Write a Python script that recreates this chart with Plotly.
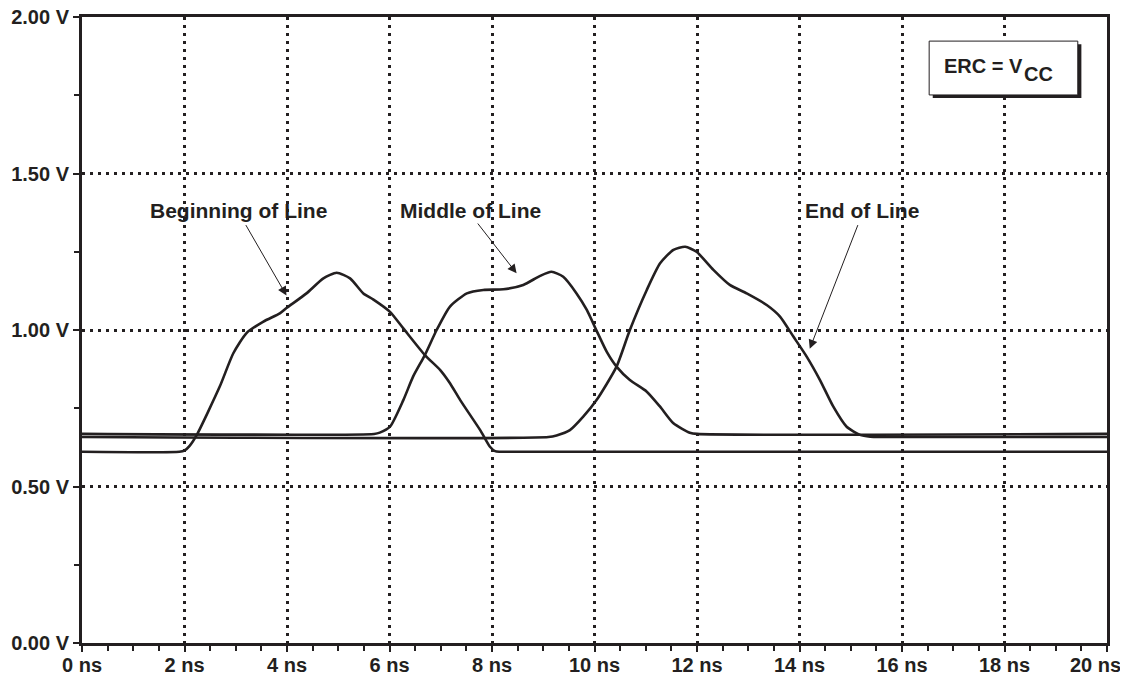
import plotly.graph_objects as go

# Beginning of Line (ns, V)
begin_t = [0, 1.9, 2.0, 2.1, 2.24, 2.69, 2.95, 3.21, 3.54, 3.86, 3.99, 4.38, 4.71, 4.97,
           5.23, 5.49, 5.68, 6.01, 6.27, 6.69, 6.99, 7.18, 7.38, 7.77, 7.96, 8.06, 8.15, 20]
begin_v = [0.611, 0.611, 0.615, 0.63, 0.665, 0.82, 0.925, 0.99, 1.027, 1.053, 1.07, 1.117,
           1.165, 1.183, 1.165, 1.117, 1.098, 1.058, 1.005, 0.92, 0.872, 0.83, 0.776, 0.68,
           0.627, 0.613, 0.611, 0.611]

# Middle of Line
mid_t = [0, 5.7, 5.81, 6.01, 6.27, 6.46, 6.69, 6.92, 7.18, 7.51, 7.83, 8.22, 8.61, 8.94,
         9.16, 9.39, 9.65, 9.85, 10.04, 10.24, 10.43, 10.69, 11.02, 11.28, 11.54, 11.86,
         12.0, 20]
mid_v = [0.668, 0.668, 0.672, 0.691, 0.776, 0.851, 0.92, 1.0, 1.075, 1.117, 1.128, 1.13,
         1.144, 1.173, 1.186, 1.17, 1.117, 1.064, 0.998, 0.93, 0.883, 0.84, 0.803, 0.755,
         0.702, 0.672, 0.668, 0.668]

# End of Line
end_t = [0, 9.1, 9.26, 9.52, 9.78, 10.04, 10.43, 10.69, 11.02, 11.28, 11.54, 11.77, 11.99,
         12.32, 12.64, 12.97, 13.36, 13.62, 13.88, 14.14, 14.4, 14.66, 14.92, 15.18, 15.38,
         15.6, 20]
end_v = [0.658, 0.658, 0.663, 0.68, 0.723, 0.776, 0.883, 1.0, 1.128, 1.213, 1.256, 1.266,
         1.25, 1.192, 1.144, 1.117, 1.08, 1.043, 0.979, 0.915, 0.84, 0.755, 0.691, 0.665,
         0.659, 0.658, 0.658]

x_ticks = list(range(0, 21, 2))
x_labels = [f"{t} ns" for t in x_ticks]
last_x_label = x_labels[-1]
x_labels[-1] = ""  # drawn separately so it stays inside the page
y_ticks = [0, 0.5, 1.0, 1.5, 2.0]
y_labels = [f"{v:.2f} V" for v in y_ticks]

font_family = "Liberation Sans, Arial, Helvetica, sans-serif"
black = "#231f20"
tick_font = dict(family=font_family, size=20, color=black, weight="bold")

fig = go.Figure()
for t, v in [(begin_t, begin_v), (mid_t, mid_v), (end_t, end_v)]:
    fig.add_trace(go.Scatter(x=t, y=v, mode="lines",
                             line=dict(color=black, width=2.6, shape="spline", smoothing=0.6),
                             showlegend=False, hoverinfo="skip"))

labels = [
    # text, text x, text y, arrow tail x, tail y, tip x, tip y
    ("Beginning of Line", 3.06, 1.383, 3.18, 1.34, 3.99, 1.11),
    ("Middle of Line", 7.59, 1.383, 7.70, 1.345, 8.48, 1.181),
    ("End of Line", 15.21, 1.383, 15.15, 1.34, 14.2, 0.94),
]
for text, tx, ty, ax, ay, hx, hy in labels:
    fig.add_annotation(x=tx, y=ty, text=text, showarrow=False,
                       font=dict(family=font_family, size=21, color=black, weight="bold"))
    fig.add_annotation(x=hx, y=hy, ax=ax, ay=ay, axref="x", ayref="y", text="",
                       showarrow=True, arrowhead=2, arrowsize=1.8, arrowwidth=1, arrowcolor=black)

# last x tick label, nudged left like in the original
fig.add_annotation(x=x_ticks[-1], y=0, yref="paper", text=last_x_label, showarrow=False,
                   xanchor="right", yanchor="top", xshift=16, yshift=-9, font=tick_font)

# ERC = VCC box with drop shadow
fig.add_shape(type="rect", x0=16.6, x1=19.5, y0=1.741, y1=1.913, xref="x", yref="y",
              fillcolor=black, line=dict(width=0), layer="above")
fig.add_shape(type="rect", x0=16.53, x1=19.43, y0=1.751, y1=1.923, xref="x", yref="y",
              fillcolor="white", line=dict(color=black, width=1), layer="above")
fig.add_annotation(x=18.4, y=1.843, text="ERC = V", showarrow=False, xanchor="right",
                   font=dict(family=font_family, size=20, color=black, weight="bold"))
fig.add_annotation(x=18.34, y=1.818, text="CC", showarrow=False, xanchor="left",
                   font=dict(family=font_family, size=20, color=black, weight="bold"))

axis_common = dict(
    showline=True, linecolor=black, linewidth=3, mirror=True,
    ticks="outside", ticklen=6, tickwidth=2, tickcolor=black,
    showgrid=True, gridcolor=black, gridwidth=2.5, griddash="3px,5px",
    zeroline=False, automargin=False, ticklabeloverflow="allow",
    tickfont=tick_font,
)

fig.update_xaxes(range=[0, 20], tickvals=x_ticks, ticktext=x_labels, ticklabelstandoff=-4,
                 minor=dict(dtick=0.5, ticks="outside", ticklen=5, tickwidth=2,
                            tickcolor=black, showgrid=False),
                 **axis_common)
fig.update_yaxes(range=[0, 2], tickvals=y_ticks, ticktext=y_labels,
                 minor=dict(dtick=0.25, ticks="outside", ticklen=5, tickwidth=2,
                            tickcolor=black, showgrid=False),
                 **axis_common)

# page body has an 8px margin, so the figure is sized to fit the window
fig.update_layout(
    width=1120, height=674,
    margin=dict(l=74, r=21, t=9, b=39),
    plot_bgcolor="white", paper_bgcolor="white",
    font=dict(family=font_family, color=black),
)

fig.write_html("out.html")
